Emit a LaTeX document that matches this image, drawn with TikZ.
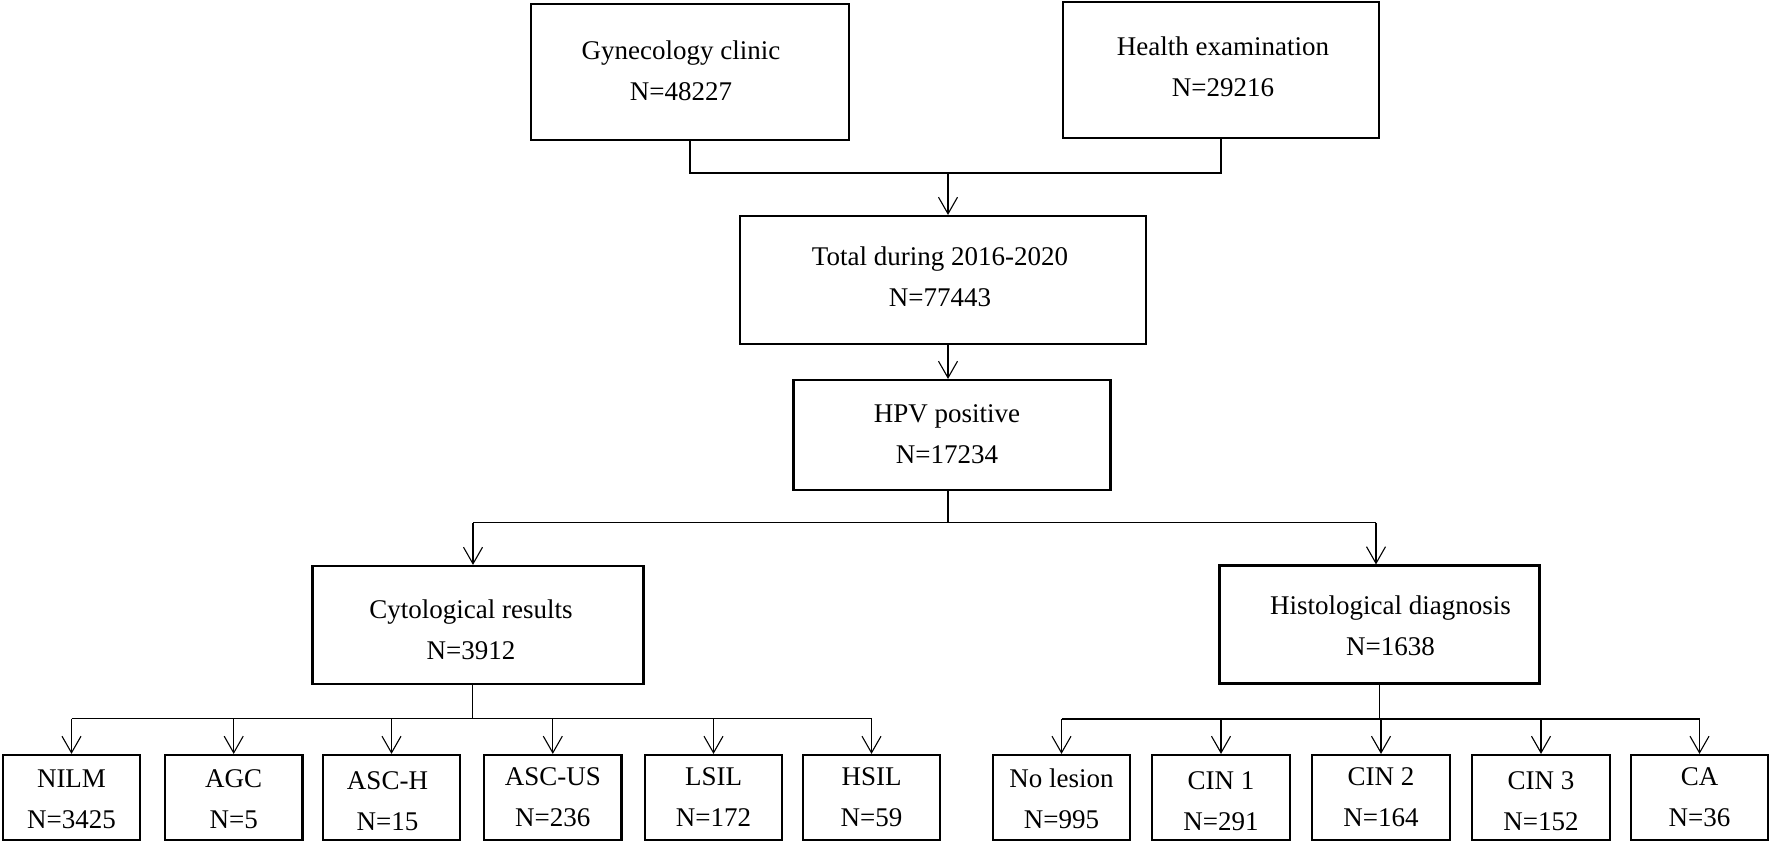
\documentclass[tikz,border=0pt]{standalone}
\usepackage{fontspec}
\setmainfont{Liberation Serif}
\usetikzlibrary{arrows.meta}
\newcommand\tb[4]{\raisebox{-#2}[\height][\depth]{\hspace*{#1}\begin{tabular}{@{}c@{}}#3\\#4\end{tabular}\hspace*{-#1}}}
\begin{document}
\begin{tikzpicture}[x=0.5pt,y=-0.5pt,
  box/.style={draw, line width=1.1pt, inner sep=0pt,
    font=\fontsize{13.5}{20.5}\selectfont},
  small/.style={box, minimum width=68.75pt, minimum height=42.5pt},
  conn/.style={line width=0.55pt},
  arr/.style={conn, -{Straight Barb[length=8.3pt,width=9.5pt,line width=0.55pt]}}]
\useasboundingbox (0,0) rectangle (1770,843);
% top level
\node[box, minimum width=159pt, minimum height=68pt] (gyn) at (690,72) {\tb{-4.5pt}{0pt}{Gynecology clinic}{N=48227}};
\node[box, minimum width=158pt, minimum height=68pt] (health) at (1221,70) {\tb{1pt}{-1pt}{Health examination}{N=29216}};
\node[box, minimum width=203pt, minimum height=64pt] (total) at (943,280) {\tb{-1.5pt}{-1pt}{Total during 2016-2020}{N=77443}};
\node[box, minimum width=158.5pt, minimum height=55pt] (hpv) at (952,435) {\tb{-2.5pt}{0pt}{HPV positive}{N=17234}};
\node[box, minimum width=165.5pt, minimum height=59pt] (cyto) at (478,625) {\tb{-3.5pt}{3pt}{Cytological results}{N=3912}};
\node[box, minimum width=160pt, minimum height=59pt] (histo) at (1379.5,624.5) {\tb{5.5pt}{1pt}{Histological diagnosis}{N=1638}};
% bottom left
\node[small] (nilm) at (71.5,797.5) {\tb{0pt}{1pt}{NILM}{N=3425}};
\node[small] (agc) at (233.7,797.5) {\tb{0pt}{1pt}{AGC}{N=5}};
\node[small] (asch) at (391.5,797.5) {\tb{-2pt}{2pt}{ASC-H}{N=15}};
\node[small] (ascus) at (552.8,797.5) {\tb{0pt}{0pt}{ASC-US}{N=236}};
\node[small] (lsil) at (713.5,797.5) {\tb{0pt}{0pt}{LSIL}{N=172}};
\node[small] (hsil) at (871.5,797.5) {\tb{0pt}{0pt}{HSIL}{N=59}};
% bottom right
\node[small] (nolesion) at (1061.5,797.5) {\tb{0pt}{1pt}{No lesion}{N=995}};
\node[small] (cin1) at (1221,797.5) {\tb{0pt}{2pt}{CIN 1}{N=291}};
\node[small] (cin2) at (1381,797.5) {\tb{0pt}{0pt}{CIN 2}{N=164}};
\node[small] (cin3) at (1541,797.5) {\tb{0pt}{2pt}{CIN 3}{N=152}};
\node[small] (ca) at (1699.5,797.5) {\tb{0pt}{0pt}{CA}{N=36}};
% bus coordinates
\coordinate (topbus) at (948,173);
\coordinate (midbus) at (948,522.6);
\coordinate (cytoA) at (473,522.6);
\coordinate (histoA) at (1376,522.6);
\coordinate (lbus) at (472.5,718.5);
\coordinate (rbus) at (1379.5,719);
% connectors top
\draw[conn] (gyn.south) -- (gyn.south |- topbus) -- (health.south |- topbus) -- (health.south);
\draw[arr] (topbus) -- (topbus |- total.north);
\draw[arr] (total.south -| topbus) -- (hpv.north -| topbus);
\draw[conn] (hpv.south -| topbus) -- (midbus);
\draw[conn] (cytoA) -- (histoA);
\draw[arr] (cytoA) -- (cytoA |- cyto.north);
\draw[arr] (histoA) -- (histoA |- histo.north);
% cytology branch
\draw[conn] (cyto.south -| lbus) -- (lbus);
\draw[conn] (lbus -| nilm.north) -- (lbus -| hsil.north);
\foreach \n in {nilm,agc,asch,ascus,lsil,hsil}
  \draw[arr] (lbus -| \n.north) -- (\n.north);
% histology branch
\draw[conn] (histo.south) -- (rbus);
\draw[conn] (rbus -| nolesion.north) -- (rbus -| ca.north);
\foreach \n in {nolesion,cin1,cin2,cin3,ca}
  \draw[arr] (rbus -| \n.north) -- (\n.north);
\end{tikzpicture}
\end{document}
